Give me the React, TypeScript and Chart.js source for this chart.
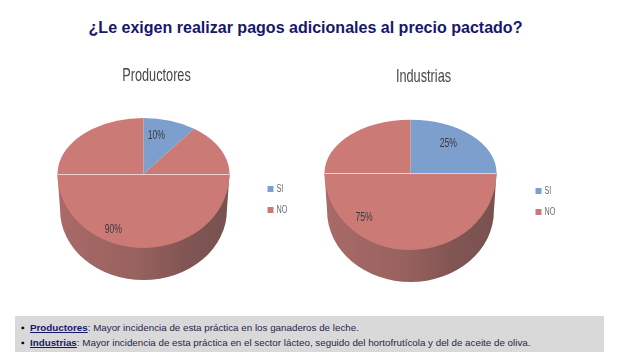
import React, { useEffect, useRef } from "react";
import { Chart, registerables } from "chart.js";

Chart.register(...registerables);

const categories = ["SI", "NO"];
const productoresValues = [10, 90];
const industriasValues = [25, 75];
const sliceColors = ["#7c9fce", "#cc7a76"];
const FONT = '"Liberation Sans", Arial, sans-serif';

function squeezedText(ctx: any, text: string, x: number, y: number, font: string, color: string, sx: number, align: string) {
  ctx.save();
  ctx.font = font;
  ctx.fillStyle = color;
  ctx.textAlign = align;
  ctx.textBaseline = "middle";
  ctx.translate(x, y);
  ctx.scale(sx, 1);
  ctx.fillText(text, 0, 0);
  ctx.restore();
}

const facePlugin = {
  id: "face3d",
  beforeDatasetsDraw(chart: any, _a: any, o: any) {
    const ctx = chart.ctx;
    const arcs = chart.getDatasetMeta(0).data;
    const { x: cx, y: cy, outerRadius: r } = arcs[0];
    const w = chart.width, h = chart.height;
    const g = ctx.createLinearGradient(cx - r, 0, cx + r, 0);
    g.addColorStop(0, "#a96a68");
    g.addColorStop(0.45, "#98625f");
    g.addColorStop(0.75, "#815553");
    g.addColorStop(1, "#785250");
    ctx.save();
    ctx.fillStyle = g;
    const sideCy = cy + o.depth;
    ctx.beginPath();
    ctx.moveTo(cx - r, cy);
    ctx.lineTo(cx + r, cy);
    ctx.lineTo(cx + r * 0.97, sideCy);
    ctx.ellipse(cx, sideCy, r * 0.97, o.sideRy, 0, 0, Math.PI);
    ctx.closePath();
    ctx.fill();
    ctx.restore();
    const halves = [
      { y: 0, height: cy, k: o.upper },
      { y: cy, height: h - cy, k: o.lower },
    ];
    halves.forEach((half) => {
      ctx.save();
      ctx.beginPath();
      ctx.rect(0, half.y, w, half.height);
      ctx.clip();
      ctx.translate(cx, cy);
      ctx.scale(1, half.k);
      ctx.translate(-cx, -cy);
      arcs.forEach((a: any) => a.draw(ctx));
      ctx.restore();
    });
    ctx.save();
    ctx.strokeStyle = "#eccfcd";
    ctx.lineWidth = 1;
    ctx.beginPath();
    ctx.moveTo(cx - r, Math.round(cy) + 0.5);
    ctx.lineTo(cx + r, Math.round(cy) + 0.5);
    ctx.stroke();
    ctx.restore();
    return false;
  },
  afterDraw(chart: any, _a: any, o: any) {
    const ctx = chart.ctx;
    const { x: cx, y: cy, outerRadius: r } = chart.getDatasetMeta(0).data[0];
    const vals = chart.data.datasets[0].data;
    const cols = chart.data.datasets[0].backgroundColor;
    squeezedText(ctx, chart.options.plugins.face3d.title, cx + o.titleDx, o.titleY, `19px ${FONT}`, "#474747", 0.67, "center");
    vals.forEach((v: number, i: number) => {
      const [fx, fy] = o.labelAt[i];
      squeezedText(ctx, `${v}%`, cx + fx * r, cy + fy * r, `12px ${FONT}`, "#3a3a3a", 0.72, "center");
    });
    chart.data.labels.forEach((lab: string, i: number) => {
      const ly = cy + o.legendDy + i * 21;
      ctx.fillStyle = cols[i];
      ctx.fillRect(cx + o.legendDx, ly - 3, 6, 6);
      squeezedText(ctx, lab, cx + o.legendDx + 9, ly, `10px ${FONT}`, "#6a6a6a", 0.72, "left");
    });
  },
};

function Pie3D(props: {
  title: string; values: number[]; left: number; top: number; labelAt: number[][]; face: any;
}) {
  const ref = useRef<HTMLCanvasElement>(null);
  useEffect(() => {
    const chart = new Chart(ref.current!, {
      type: "pie",
      data: {
        labels: categories,
        datasets: [{ data: props.values, backgroundColor: sliceColors, borderWidth: 0 }],
      },
      options: {
        animation: false,
        responsive: false,
        layout: { padding: { left: 20, right: 26, top: 26, bottom: 78 } },
        plugins: {
          tooltip: { enabled: false },
          title: { display: false },
          legend: { display: false },
          face3d: { title: props.title, labelAt: props.labelAt, ...props.face },
        } as any,
      },
      plugins: [facePlugin],
    } as any);
    return () => chart.destroy();
  }, []);
  return (
    <canvas
      ref={ref}
      width={293}
      height={276}
      style={{ position: "absolute", left: props.left, top: props.top, width: 293, height: 276 }}
    />
  );
}

const head: React.CSSProperties = { color: "#17176b", fontWeight: "bold", textDecoration: "underline" };
const line: React.CSSProperties = { position: "absolute", whiteSpace: "nowrap" };
const bullet: React.CSSProperties = { color: "#000", display: "inline-block", width: 9 };

export default function App() {
  return (
    <div style={{ position: "absolute", left: 0, top: 0, width: 626, height: 358, background: "#fff", overflow: "hidden", fontFamily: FONT }}>
      <div style={{ position: "absolute", left: 0, width: 611, top: 17, textAlign: "center", color: "#17176b", fontWeight: "bold", fontSize: 16.05, lineHeight: "20px" }}>
        ¿Le exigen realizar pagos adicionales al precio pactado?
      </div>
      <Pie3D title="Productores" values={productoresValues} left={0} top={62} labelAt={[[0.15, -0.45], [-0.35, 0.65]]}
        face={{ upper: 0.65, lower: 0.86, depth: 36, sideRy: 70, titleDx: 13, titleY: 14, legendDx: 124, legendDy: 15 }} />
      <Pie3D title="Industrias" values={industriasValues} left={267} top={61} labelAt={[[0.44, -0.34], [-0.54, 0.52]]}
        face={{ upper: 0.62, lower: 0.895, depth: 38, sideRy: 71, titleDx: 13, titleY: 16, legendDx: 125, legendDy: 18 }} />
      <div style={{ position: "absolute", left: 15, top: 316, width: 589, height: 36, background: "#d9d9d9", fontSize: 9.8, lineHeight: "12px", color: "#26264a" }}>
        <div style={{ ...line, top: 6, left: 6 }}>
          <span style={bullet}>▪</span><span style={head}>Productores</span>: Mayor incidencia de esta práctica en los ganaderos de leche.
        </div>
        <div style={{ ...line, top: 21, left: 6 }}>
          <span style={bullet}>▪</span><span style={head}>Industrias</span>: Mayor incidencia de esta práctica en el sector lácteo, seguido del hortofrutícola y del de aceite de oliva.
        </div>
      </div>
    </div>
  );
}
